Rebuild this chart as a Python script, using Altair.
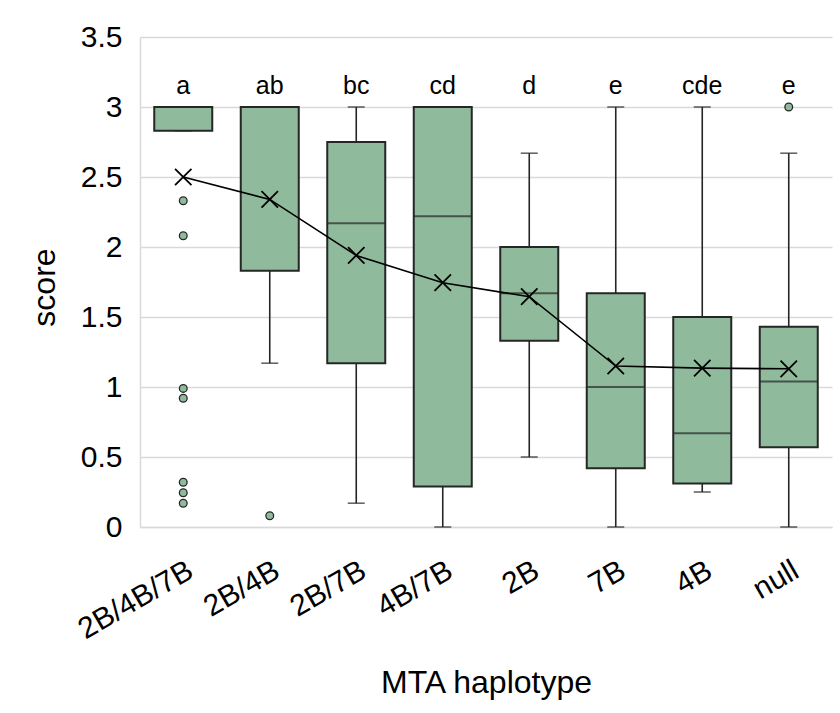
import altair as alt
import pandas as pd

# ---- data ----
categories = ["2B/4B/7B", "2B/4B", "2B/7B", "4B/7B", "2B", "7B", "4B", "null"]
whisker_low = [2.83, 1.17, 0.17, 0.0, 0.50, 0.0, 0.25, 0.0]
q1 = [2.83, 1.83, 1.17, 0.29, 1.33, 0.42, 0.31, 0.57]
median = [3.0, 3.0, 2.17, 2.22, 1.67, 1.0, 0.67, 1.04]
q3 = [3.0, 3.0, 2.75, 3.0, 2.0, 1.67, 1.5, 1.43]
whisker_high = [3.0, 3.0, 3.0, 3.0, 2.67, 3.0, 3.0, 2.67]
means = [2.50, 2.34, 1.94, 1.745, 1.645, 1.15, 1.135, 1.13]
letters = ["a", "ab", "bc", "cd", "d", "e", "cde", "e"]

outlier_cat = ["2B/4B/7B"] * 7 + ["2B/4B", "null"]
outlier_val = [2.33, 2.08, 0.99, 0.92, 0.32, 0.245, 0.17, 0.08, 3.0]

y_ticks = [0, 0.5, 1, 1.5, 2, 2.5, 3, 3.5]

# ---- tables ----
box_df = pd.DataFrame({
    "haplotype": categories,
    "lo": whisker_low,
    "q1": q1,
    "median": median,
    "q3": q3,
    "hi": whisker_high,
    "mean": means,
    "letter": letters,
})
out_df = pd.DataFrame({"haplotype": outlier_cat, "score": outlier_val})

FONT = "Liberation Sans"
FILL = "#8FBB9C"
DARK = "#262626"
GRID = "#d9d9d9"

x_enc = alt.X(
    "haplotype:N",
    sort=categories,
    scale=alt.Scale(domain=categories, paddingInner=0, paddingOuter=0),
    title="MTA haplotype",
    axis=alt.Axis(
        labelAngle=-30,
        labelFontSize=30,
        labelPadding=28,
        labelColor="black",
        labelFont=FONT,
        ticks=False,
        grid=False,
        domainColor=GRID,
        domainWidth=1.5,
        titleFont=FONT,
        titleFontSize=32,
        titleFontWeight="normal",
        titleColor="black",
        titleY=165,
        titleBaseline="alphabetic",
    ),
)

y_scale = alt.Scale(domain=[0, 3.5], nice=False, zero=True)
y_axis = alt.Axis(
    values=y_ticks,
    format="~g",
    labelFontSize=30,
    labelFont=FONT,
    labelColor="black",
    labelPadding=18,
    ticks=False,
    grid=True,
    gridColor=GRID,
    gridWidth=1.5,
    domainColor=GRID,
    domainWidth=1.5,
    title="score",
    titleFont=FONT,
    titleFontSize=32,
    titleFontWeight="normal",
    titleColor="black",
    titleX=-96,
    titleY=250,
    titleBaseline="middle",
)

base = alt.Chart(box_df)

whisker = base.mark_rule(color=DARK, strokeWidth=1.6).encode(
    x=x_enc,
    y=alt.Y("lo:Q", scale=y_scale, axis=y_axis),
    y2="hi:Q",
)

cap_lo = base.mark_tick(color=DARK, size=17, thickness=1.6).encode(
    x=alt.X("haplotype:N", sort=categories), y=alt.Y("lo:Q")
)
cap_hi = base.mark_tick(color=DARK, size=17, thickness=1.6).encode(
    x=alt.X("haplotype:N", sort=categories), y=alt.Y("hi:Q")
)

box = base.mark_bar(
    fill=FILL, stroke=DARK, strokeWidth=2, width={"band": 58 / 86.5}
).encode(
    x=alt.X("haplotype:N", sort=categories),
    y=alt.Y("q1:Q"),
    y2="q3:Q",
)

med = base.mark_tick(color=DARK, size=58, thickness=2).encode(
    x=alt.X("haplotype:N", sort=categories), y=alt.Y("median:Q")
)

outliers = alt.Chart(out_df).mark_point(
    shape="circle", filled=True, fill=FILL, stroke=DARK, strokeWidth=1.3, size=60, opacity=1
).encode(
    x=alt.X("haplotype:N", sort=categories), y=alt.Y("score:Q")
)

mean_line = base.mark_line(color="black", strokeWidth=1.6).encode(
    x=alt.X("haplotype:N", sort=categories), y=alt.Y("mean:Q")
)

mean_x = base.mark_point(
    shape="M-1,-1L1,1M-1,1L1,-1", filled=False, stroke="black", strokeWidth=1.8, size=270, opacity=1
).encode(
    x=alt.X("haplotype:N", sort=categories), y=alt.Y("mean:Q")
)

sig = base.mark_text(
    font=FONT, fontSize=25, color="black", baseline="alphabetic", align="center"
).encode(
    x=alt.X("haplotype:N", sort=categories),
    y=alt.datum(3.09),
    text="letter:N",
)

chart = (
    alt.layer(whisker, cap_lo, cap_hi, box, med, outliers, mean_line, mean_x, sig)
    .properties(
        width=692,
        height=490,
        autosize=alt.AutoSizeParams(type="none"),
        padding={"left": 140, "top": 37, "right": 8, "bottom": 186},
        background="white",
    )
    .configure_view(stroke=None)
)

chart.save("out.html", embed_options={"renderer": "svg", "actions": False})
